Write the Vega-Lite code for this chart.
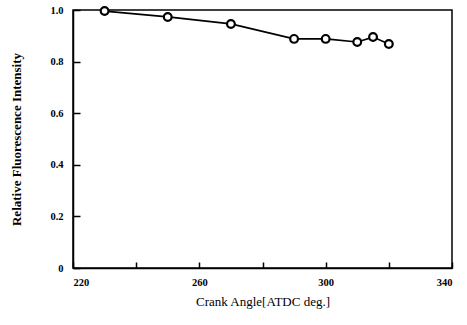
{
  "$schema": "https://vega.github.io/schema/vega-lite/v6.json",
  "width": 379,
  "height": 258,
  "autosize": "none",
  "padding": {"left": 73, "top": 10, "right": 15, "bottom": 57},
  "background": "white",
  "config": {
    "view": {"stroke": "black", "strokeWidth": 1.5},
    "font": "Liberation Serif",
    "axis": {
      "grid": false,
      "domain": true,
      "domainColor": "black",
      "domainWidth": 1.5,
      "tickColor": "black",
      "tickWidth": 1.5,
      "labelColor": "black",
      "titleColor": "black",
      "labelFont": "Liberation Serif",
      "titleFont": "Liberation Serif",
      "labelFontWeight": "bold",
      "labelFontSize": 10.5
    }
  },
  "data": {
    "values": [
      {"angle": 230, "intensity": 0.996},
      {"angle": 250, "intensity": 0.973},
      {"angle": 270, "intensity": 0.946},
      {"angle": 290, "intensity": 0.888},
      {"angle": 300, "intensity": 0.888},
      {"angle": 310, "intensity": 0.876},
      {"angle": 315, "intensity": 0.895},
      {"angle": 320, "intensity": 0.868}
    ]
  },
  "layer": [
    {
      "mark": {"type": "line", "color": "black", "strokeWidth": 1.7},
      "encoding": {
        "x": {
          "field": "angle", "type": "quantitative",
          "scale": {"domain": [220, 340], "nice": false},
          "axis": {
            "title": "Crank Angle[ATDC deg.]",
            "titleFontSize": 13, "titleFontWeight": "normal", "titlePadding": 8,
            "values": [220, 240, 260, 280, 300, 320, 340],
            "labelExpr": "datum.value % 40 == 0 ? '' : datum.label",
            "tickSize": -6, "labelPadding": 15
          }
        },
        "y": {
          "field": "intensity", "type": "quantitative",
          "scale": {"domain": [0, 1], "nice": false},
          "axis": {
            "title": "Relative Fluorescence Intensity",
            "titleFontSize": 13, "titleFontWeight": "bold", "titlePadding": 26,
            "values": [0, 0.1, 0.2, 0.3, 0.4, 0.5, 0.6, 0.7, 0.8, 0.9, 1.0],
            "labelExpr": "datum.value == 0 ? '0' : (round(datum.value*10) % 2 == 1 ? '' : format(datum.value, '.1f'))",
            "tickSize": -7, "labelPadding": 17
          }
        }
      }
    },
    {
      "mark": {"type": "point", "shape": "circle", "filled": true, "fill": "white", "stroke": "black", "strokeWidth": 2.2, "size": 60, "opacity": 1},
      "encoding": {
        "x": {"field": "angle", "type": "quantitative"},
        "y": {"field": "intensity", "type": "quantitative"}
      }
    }
  ]
}
